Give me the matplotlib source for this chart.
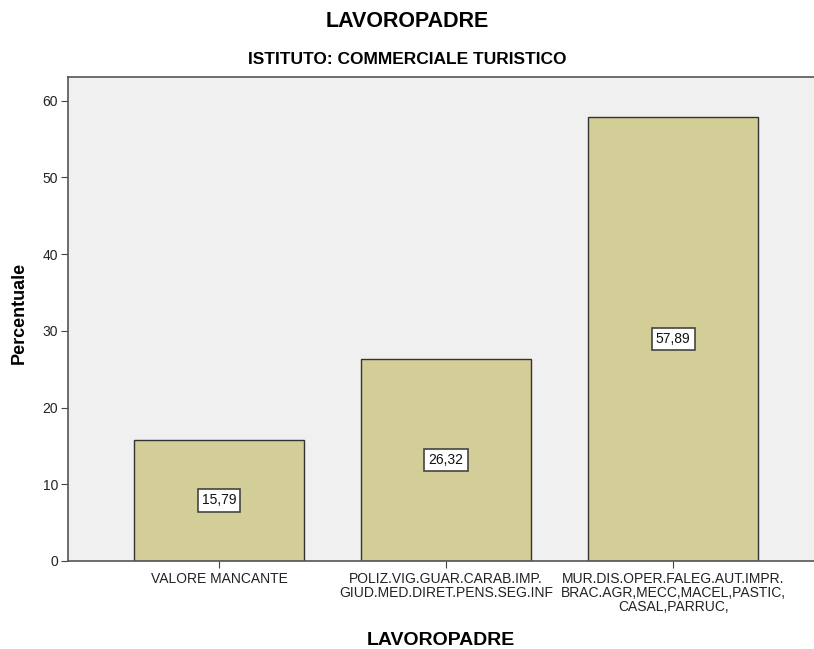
import matplotlib.pyplot as plt

plt.rcParams['font.family'] = ['Liberation Sans', 'DejaVu Sans']

categories = ['VALORE MANCANTE',
              'POLIZ.VIG.GUAR.CARAB.IMP.\nGIUD.MED.DIRET.PENS.SEG.INF',
              'MUR.DIS.OPER.FALEG.AUT.IMPR.\nBRAC.AGR,MECC,MACEL,PASTIC,\nCASAL,PARRUC,']
percentuali = [15.79, 26.32, 57.89]
value_labels = ['15,79', '26,32', '57,89']

fig = plt.figure(figsize=(8.14, 6.49), dpi=100)
ax = fig.add_axes([0.0835, 0.1356, 0.9165, 0.7458])
ax.set_facecolor('#F0F0F0')

x = range(len(categories))
ax.bar(x, percentuali, width=0.75, color='#D3CE97', edgecolor='#333333', linewidth=1.0, zorder=2)

# value boxes in the middle of each bar
for xi, v, lab in zip(x, percentuali, value_labels):
    ax.text(xi, v / 2, lab, ha='center', va='center', fontsize=10, color='#111111',
            bbox=dict(boxstyle='square,pad=0.3', facecolor='white', edgecolor='#444444', linewidth=1.2),
            zorder=3)

ax.set_xlim(-0.665, 2.62)
ax.set_ylim(0, 63.1)
ax.set_yticks([0, 10, 20, 30, 40, 50, 60])
ax.set_xticks(list(x))
ax.set_xticklabels(categories, fontsize=10, linespacing=0.98)
ax.tick_params(axis='y', labelsize=10, length=5, color='#444444', labelcolor='#222222', pad=2)
ax.tick_params(axis='x', length=5, color='#444444', labelcolor='#222222', pad=3)

for side in ['left', 'bottom', 'top']:
    ax.spines[side].set_color('#555555')
    ax.spines[side].set_linewidth(1.2)
ax.spines['right'].set_visible(False)

ax.set_ylabel('Percentuale', fontsize=13, fontweight='bold')
ax.yaxis.set_label_coords(-0.054, 0.512)
ax.set_xlabel('LAVOROPADRE', fontsize=14, fontweight='bold')
ax.xaxis.set_label_coords(0.5, -0.147)

fig.text(0.5, 0.967, 'LAVOROPADRE', ha='center', va='center', fontsize=15.5, fontweight='bold')
fig.text(0.5, 0.909, 'ISTITUTO: COMMERCIALE TURISTICO', ha='center', va='center', fontsize=12.5, fontweight='bold')

fig.savefig('out.png', dpi=100)
